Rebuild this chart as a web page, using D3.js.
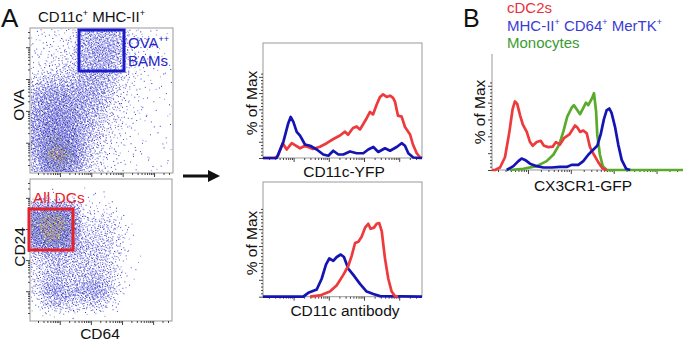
<!DOCTYPE html>
<html>
<head>
<meta charset="utf-8">
<script src="https://cdn.jsdelivr.net/npm/d3@7"></script>
<style>
    body { margin: 0; background: #fff; }
    text { font-family: "Liberation Sans", Arial, sans-serif; fill: #111; }
</style>
</head>
<body>
<div id="chart"></div>
<script>

// density grids (12 x 12 cells, rows top -> bottom)
const ovaGrid = [
    [0.3,0.3,0.5,0.5,2.5,3,3,2.5,0.5,0.3,0.2,0.1],
    [0.3,0.4,0.5,0.8,3,3.5,3.5,3,0.6,0.3,0.2,0.1],
    [0.4,0.5,0.8,1,3,3.5,3.5,2.5,0.8,0.4,0.2,0.1],
    [0.6,0.8,1.2,1.8,3,3.5,3,1.5,0.6,0.3,0.2,0.1],
    [1.5,2.5,2.5,2.5,3.5,3.5,2.5,1,0.4,0.2,0.1,0.1],
    [3,4.5,4.5,4,3.5,3.5,2,0.8,0.3,0.2,0.1,0.1],
    [3.5,5,5,4.5,3.5,3,1.5,0.6,0.3,0.2,0.1,0.1],
    [4,5.5,5.5,5,3.5,2.5,1,0.5,0.3,0.2,0.1,0.1],
    [4,6,6,5.5,3,2,0.8,0.4,0.2,0.1,0.1,0.1],
    [4,7,7,6,3,1.5,0.6,0.3,0.2,0.1,0.1,0.1],
    [3.5,8,9,7,3,1.2,0.5,0.3,0.2,0.1,0.1,0.1],
    [2.5,6,7,5,2,0.8,0.4,0.2,0.1,0.1,0.1,0.1]
];

const cd24Grid = [
    [0,0,0,0,0,0,0,0,0,0,0,0],
    [0.1,0.1,0.1,0.1,0.1,0.1,0.1,0,0,0,0,0],
    [5,6,6,4,0.5,0.3,0.4,0.2,0,0,0,0],
    [7,9,9,6,1,1,1.2,0.5,0.1,0,0,0],
    [7,9,8,6,1.5,1.5,1.5,0.8,0.1,0,0,0],
    [5,7,7,5,2,2,1.5,0.8,0.1,0,0,0],
    [1.5,2.5,2.5,2,2,2,1.5,0.6,0.1,0,0,0],
    [1,2,2.5,2,2,2,1.5,0.5,0.1,0,0,0],
    [1,2.5,2.5,2,2.5,3,2,0.5,0.1,0,0,0],
    [1,3.5,4,3,3.5,4,2.5,0.4,0.1,0,0,0],
    [0.3,2,2.5,1.5,1.5,2,1,0.2,0,0,0,0],
    [0,0.1,0.1,0.1,0.1,0.1,0,0,0,0,0,0]
];

// histograms: [channel (0-100 across the axis), % of max]
const yfpRed = [[0,0],[7.5,0],[9.4,3.5],[12.4,22.8],[14.9,13.1],[18.1,22.8],[23.3,15],[26.4,18.9],[31.4,13.9],
    [35.8,17.4],[40.1,22.8],[44,28.9],[48.4,34.7],[51.6,40.5],[53.5,35.9],[56.6,46.3],[58.9,48.6],[61,44],
    [65.2,61.3],[67.3,71],[69.2,67.1],[71.5,82.5],[73.6,94.1],[75.5,98],[77.8,94.1],[79.9,96],[81.8,92.6],
    [83,86.8],[84.9,65.2],[87.2,63.7],[89.3,47.8],[92.5,36.2],[94.3,20.8],[96.7,7.3],[98.7,1.2],[100,0]];
const yfpBlue = [[0,0],[8.6,0],[12.8,24.7],[15.9,53.6],[17.4,63.3],[19.1,55.6],[21.2,40.2],[23.3,34.4],
    [26.4,20.8],[29.6,18.9],[33.8,13.1],[37.9,5.4],[41.1,3.5],[44.2,11.2],[47.4,5.4],[50.5,5.4],[54.7,10.1],
    [58.9,7.3],[63.1,7.3],[66.2,13.1],[69.4,17],[72.5,9.3],[76.7,15],[79.9,11.2],[84.1,17],[87.2,22.8],
    [89.3,18.9],[91.4,7.3],[94.5,0.8],[98.7,0],[100,0]];

const abBlue = [[0,0],[25.3,0],[28.5,5.7],[33.8,10.7],[36.9,26.6],[39.6,47.4],[41.7,56.8],[44.2,53.1],
    [46.4,58.8],[48.9,62.5],[50.9,58.8],[53.6,41.7],[56.8,32.3],[61,19],[65.2,7.6],[69.4,3.9],[73.6,0.8],[100,0]];
const abRed = [[29.6,0],[35.8,1.9],[42.1,7.6],[46.4,17],[50.5,32.3],[53.6,45.5],[55.8,60.7],[57.9,79.5],
    [60,81.5],[62.1,89.1],[64.2,102.3],[66.2,108],[67.7,100.5],[69.8,102.3],[71.5,108],[73.1,109.1],
    [74.7,96.6],[76.7,56.8],[78.8,26.6],[80.9,7.6],[83,0.8],[85,0]];

const cx3Red = [[0,0],[1.6,0],[4.2,3.7],[6.8,18.9],[9.1,56.6],[10.8,90.5],[12,101.8],[13.2,98.1],[14.7,81.1],
    [16.1,67.9],[18.2,56.6],[19.9,41.5],[21.3,35.9],[23.4,41.5],[25.5,43.3],[27.2,35.9],[29.5,33.9],
    [31.8,34.7],[33.5,41.5],[35.6,37.7],[37.7,47.2],[40.5,52.8],[43.5,66],[44.9,62.2],[46.1,56.6],
    [47.8,58.5],[49.6,54.6],[51.3,33.9],[53.4,22.6],[55.7,11.3],[58,1.9],[60.1,0]];
const cx3Green = [[9.4,0],[16.4,1.9],[23.4,5.7],[28.6,13.2],[32.1,22.6],[35.2,37.7],[37.3,56.6],[39.4,79.2],
    [41.7,92.4],[42.9,96.2],[44.7,88.6],[46.1,82.9],[47.5,90.5],[49.2,99.9],[50.4,96.2],[52.2,105.5],
    [53.4,113.9],[54.5,86.8],[55.1,52.8],[56.5,22.6],[58,5.7],[60.1,0],[100,0]];
const cx3Blue = [[7.7,0],[11.2,5.7],[13.8,13.2],[15.5,17],[17.3,15],[19.9,9.4],[23.4,5.7],[26.9,3.7],
    [31.3,3.7],[35.6,4.5],[39.1,4.5],[41.7,7.6],[45.2,7.6],[47.8,13.2],[50.4,22.6],[53,30.2],[55.1,35.9],
    [56.9,52.8],[58.6,75.5],[60,88.6],[61.4,91.3],[62.6,84.8],[64.4,64.1],[66.1,37.7],[67.9,15],[70.2,1.9],[72.3,0]];

const pctTicks = d3.range(0, 131, 5);

const RED = "#ee3a3c", BLUE = "#1414b4", GREEN = "#5aab2b";

let svg = d3.select("#chart").append("svg")
    .attr("width", 683)
    .attr("height", 342);

// radical inverse (Halton) used to spread dots evenly over a cell
function halton(i, b) {
    let f = 1, r = 0;
    while (i > 0) { f /= b; r += f * (i % b); i = Math.floor(i / b); }
    return r;
}

// bilinear read of a density grid at grid coords (cell centres at +0.5)
function gridAt(grid, gx, gy) {
    let nr = grid.length, nc = grid[0].length;
    let cx = Math.max(0, Math.min(nc - 1, gx - 0.5)), cy = Math.max(0, Math.min(nr - 1, gy - 0.5));
    let c0 = Math.floor(cx), r0 = Math.floor(cy);
    let c1 = Math.min(nc - 1, c0 + 1), r1 = Math.min(nr - 1, r0 + 1);
    let tx = cx - c0, ty = cy - r0;
    let top = grid[r0][c0] * (1 - tx) + grid[r0][c1] * tx;
    let bot = grid[r1][c0] * (1 - tx) + grid[r1][c1] * tx;
    return top * (1 - ty) + bot * ty;
}

// flow style log ticks, longer at each decade
function logAxis(orient, from, to, pos) {
    let s = d3.scaleLog().domain([20, 3e5]).range([from, to]);
    let g = svg.append("g");
    let ax = orient === "bottom" ? d3.axisBottom(s) : d3.axisLeft(s);
    ax.tickValues(s.ticks()).tickFormat("").tickSizeOuter(0);
    g.attr("transform", orient === "bottom" ? `translate(0,${pos})` : `translate(${pos},0)`)
        .call(ax);
    g.select(".domain").remove();
    g.selectAll(".tick line")
        .attr("stroke", "#444")
        .attr(orient === "bottom" ? "y2" : "x2", d => {
            let major = Math.abs(Math.log10(d) - Math.round(Math.log10(d))) < 1e-9;
            return (orient === "bottom" ? 1 : -1) * (major ? 4 : 2);
        });
}

function pctAxis(y, x) {
    let g = svg.append("g").attr("transform", `translate(${x},0)`);
    g.call(d3.axisLeft(y).tickValues(pctTicks.filter(d => d <= y.domain()[1])).tickFormat("").tickSizeOuter(0));
    g.select(".domain").remove();
    g.selectAll(".tick line")
        .attr("stroke", "#444")
        .attr("x2", d => d % 25 === 0 ? -4 : -2);
}

function dotPlot(grid, x0, y0, x1, y1, id) {
    let nr = grid.length, nc = grid[0].length;
    let xs = d3.scaleLinear().domain([0, nc]).range([x0, x1]);
    let ys = d3.scaleLinear().domain([0, nr]).range([y0, y1]);
    let dmax = d3.max(grid.flat());

    // evenly spread candidate sites, kept in proportion to the local density
    let dots = [];
    let nSites = 26000;
    for (let i = 1; i <= nSites; i++) {
        let gx = halton(i, 2) * nc, gy = halton(i, 3) * nr;
        let d = gridAt(grid, gx, gy);
        if (halton(i, 5) > Math.min(1, d / dmax * 1.05)) continue;
        let k = i % 13;
        let col = k < 5 ? "#4848d4" : k < 10 ? "#8686e4" : "#3030b8";
        if (d > 4 && k === 12) col = "#20205e";
        if (d > 6.2 && (k === 3 || k === 8)) col = "#7f9360";
        if (d > 7.6 && (k === 1 || k === 6 || k === 10)) col = "#d59a3a";
        dots.push({x: xs(gx), y: ys(gy), color: col});
    }

    svg.append("clipPath").attr("id", id)
        .append("rect").attr("x", x0 + 1).attr("y", y0 + 1)
        .attr("width", x1 - x0 - 2).attr("height", y1 - y0 - 2);

    svg.append("g").attr("clip-path", `url(#${id})`)
        .selectAll("rect")
        .data(dots)
        .join("rect")
        .attr("x", d => d.x)
        .attr("y", d => d.y)
        .attr("width", 1)
        .attr("height", 1)
        .attr("fill", d => d.color);

    svg.append("rect")
        .attr("x", x0).attr("y", y0)
        .attr("width", x1 - x0).attr("height", y1 - y0)
        .attr("fill", "none").attr("stroke", "#999").attr("stroke-width", 1);

    logAxis("bottom", x0 + 8, x1 - 4, y1);
    logAxis("left", y1 - 8, y0 + 4, x0);
}

function histogram(series, x0, x1, yBase, y100, yTop, box) {
    let x = d3.scaleLinear().domain([0, 100]).range([x0, x1]);
    let y = d3.scaleLinear().domain([0, 100]).range([yBase, y100]);
    y.domain([0, y.invert(yTop)]);

    if (box) {
        svg.append("rect")
            .attr("x", x0).attr("y", yTop)
            .attr("width", x1 - x0).attr("height", yBase - yTop)
            .attr("fill", "none").attr("stroke", "#999");
    } else {
        svg.append("path")
            .attr("d", `M${x0},${yTop}V${yBase}H${x1}`)
            .attr("fill", "none").attr("stroke", "#999");
    }

    pctAxis(y, x0);
    logAxis("bottom", x0 + 6, x1 - 6, yBase);

    let line = d3.line().x(d => x(d[0])).y(d => y(d[1]));
    series.forEach(s => {
        svg.append("path")
            .datum(s.data)
            .attr("d", line)
            .attr("fill", "none")
            .attr("stroke", s.color)
            .attr("stroke-width", 2.7)
            .attr("stroke-linejoin", "round");
    });
}

// ---- panel A dot plots
dotPlot(ovaGrid, 30, 28, 173, 173, "clipOva");
dotPlot(cd24Grid, 30, 179, 172, 321, "clipCd24");

svg.append("rect").attr("x", 79).attr("y", 30).attr("width", 45).attr("height", 41)
    .attr("fill", "none").attr("stroke", "#1a1ac6").attr("stroke-width", 3);
svg.append("rect").attr("x", 29).attr("y", 209).attr("width", 44).attr("height", 41)
    .attr("fill", "none").attr("stroke", "#e8202a").attr("stroke-width", 3);

// ---- histograms
histogram([{data: yfpRed, color: RED}, {data: yfpBlue, color: BLUE}], 263, 422, 158, 71.6, 43, true);
histogram([{data: abBlue, color: BLUE}, {data: abRed, color: RED}], 263, 422, 296.7, 208.7, 182, true);
histogram([{data: cx3Green, color: GREEN}, {data: cx3Red, color: RED}, {data: cx3Blue, color: BLUE}],
    492, 683, 170, 81.6, 54, false);

// arrow
svg.append("line").attr("x1", 183).attr("y1", 176).attr("x2", 210).attr("y2", 176)
    .attr("stroke", "#111").attr("stroke-width", 3);
svg.append("path").attr("d", "M208,170L220,176L208,182Z").attr("fill", "#111");

// ---- text
// parts: [text, isSuperscript]
function richText(x, y, size, color, parts) {
    let t = svg.append("text").attr("x", x).attr("y", y).attr("font-size", size);
    if (color) t.style("fill", color);
    let raised = false;
    parts.forEach(p => {
        let sp = t.append("tspan").text(p[0]);
        if (p[1]) {
            sp.attr("font-size", size * 0.6).attr("dy", -size * 0.38);
            raised = true;
        } else if (raised) {
            sp.attr("dy", size * 0.38);
            raised = false;
        }
    });
    return t;
}

svg.append("text").attr("x", 1).attr("y", 27).attr("font-size", 26).text("A");
svg.append("text").attr("x", 463).attr("y", 27).attr("font-size", 25).text("B");

richText(38, 22, 15, null, [["CD11c", false], ["+", true], [" MHC-II", false], ["+", true]]);
richText(128, 48, 15, "#2626c8", [["OVA", false], ["++", true]]);
svg.append("text").attr("x", 128).attr("y", 66).attr("font-size", 15).style("fill", "#2626c8").text("BAMs");

svg.append("text").attr("x", 33).attr("y", 203).attr("font-size", 15.5).style("fill", "#e8202a").text("All DCs");

function vlabel(x, y, txt) {
    svg.append("text").attr("transform", `translate(${x},${y}) rotate(-90)`)
        .attr("text-anchor", "middle").attr("font-size", 15.5).text(txt);
}
function hlabel(x, y, txt) {
    svg.append("text").attr("x", x).attr("y", y)
        .attr("text-anchor", "middle").attr("font-size", 15.5).text(txt);
}

vlabel(24, 105, "OVA");
vlabel(25, 247, "CD24");
hlabel(100, 339, "CD64");
vlabel(257, 103, "% of Max");
vlabel(257, 243, "% of Max");
vlabel(485, 112, "% of Max");
hlabel(344, 177, "CD11c-YFP");
hlabel(345, 316, "CD11c antibody");
hlabel(583, 191, "CX3CR1-GFP");

svg.append("text").attr("x", 507).attr("y", 13).attr("font-size", 15).style("fill", "#e8323c").text("cDC2s");
richText(507, 30.5, 15, "#3b3bd4", [["MHC-II", false], ["+", true], [" CD64", false], ["+", true], [" MerTK", false], ["+", true]]);
svg.append("text").attr("x", 507).attr("y", 48).attr("font-size", 15).style("fill", "#3c9b32").text("Monocytes");

</script>
</body>
</html>
